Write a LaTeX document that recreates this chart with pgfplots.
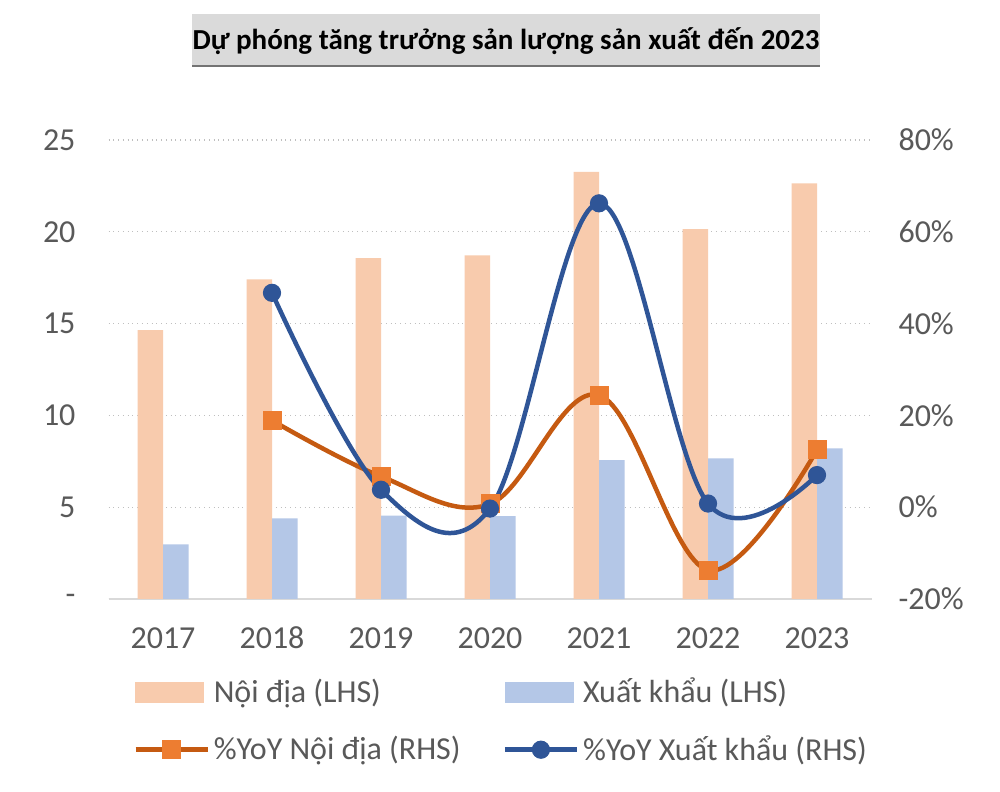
\documentclass[border=0pt]{standalone}
\usepackage{fontspec}
\setmainfont{Carlito}
\usepackage{pgfplots}
\pgfplotsset{compat=1.18}
\definecolor{peach}{HTML}{F8CBAD}
\definecolor{lblue}{HTML}{B4C7E7}
\definecolor{oline}{HTML}{C55A11}
\definecolor{omark}{HTML}{ED7D31}
\definecolor{bline}{HTML}{2F5597}
\definecolor{tickc}{HTML}{595959}
\definecolor{gridc}{HTML}{BFBFBF}
\definecolor{axisc}{HTML}{D9D9D9}
\definecolor{titlebg}{HTML}{DADADA}
\begin{document}
\begin{tikzpicture}
\useasboundingbox (0,0) rectangle (500bp,396bp);
\fill[white] (0,0) rectangle (500bp,396bp);
\fill[titlebg] (96bp,363bp) rectangle (410bp,389bp);
\draw[black!55, line width=1.2bp] (96bp,363bp) -- (410bp,363bp);
\node[font=\fontsize{14.5bp}{17bp}\selectfont\bfseries, text=black] at (253bp,375.5bp) {Dự phóng tăng trưởng sản lượng sản xuất đến 2023};
\begin{axis}[
  at={(54.25bp,96.5bp)}, anchor=south west,
  scale only axis, width=381.5bp, height=229.5bp,
  xmin=-0.5, xmax=6.5, ymin=0, ymax=25,
  xtick={0,...,6}, xticklabels={2017,2018,2019,2020,2021,2022,2023},
  ytick={0,5,...,25}, yticklabels={-,5,10,15,20,25},
  axis x line*=bottom, axis y line*=left,
  axis line style={-},
  x axis line style={draw=axisc, line width=1bp},
  y axis line style={draw=none},
  major tick length=0pt,
  ymajorgrids, grid style={gridc, dotted, line width=0.6bp},
  tick label style={font=\fontsize{16bp}{19bp}\selectfont, text=tickc},
  yticklabel style={xshift=-13bp},
  xticklabel style={anchor=north, text height=11bp, text depth=0pt, yshift=-10bp},
  ybar, bar width=12.75bp,
  clip=false,
]
\addplot[fill=peach, draw=none, bar shift=-6.375bp] coordinates {(0,14.65) (1,17.41) (2,18.57) (3,18.72) (4,23.27) (5,20.14) (6,22.64)};
\addplot[fill=lblue, draw=none, bar shift=6.375bp] coordinates {(0,2.98) (1,4.39) (2,4.54) (3,4.52) (4,7.57) (5,7.66) (6,8.21)};
\end{axis}
\begin{axis}[
  at={(54.25bp,96.5bp)}, anchor=south west,
  scale only axis, width=381.5bp, height=229.5bp,
  xmin=-0.5, xmax=6.5, ymin=-20, ymax=80,
  hide x axis,
  axis y line*=right, axis line style={-}, y axis line style={draw=none},
  ytick={-20,0,...,80}, yticklabels={-20\%,0\%,20\%,40\%,60\%,80\%},
  major tick length=0pt,
  tick label style={font=\fontsize{16bp}{19bp}\selectfont, text=tickc},
  yticklabel style={xshift=10bp},
  clip=false,
  legend columns=2,
  legend cell align=left,
  legend image code/.code={\draw[mark repeat=2,mark phase=2,#1] plot coordinates {(0bp,0bp) (18bp,0bp) (36bp,0bp)};},
  legend style={at={(0.032,-0.167)}, anchor=north west, draw=none, fill=none, inner sep=0pt,
    font=\fontsize{16bp}{19bp}\selectfont, text=tickc, row sep=13bp,
    nodes={inner xsep=2bp, inner ysep=1bp},
    /tikz/every even column/.append style={column sep=19bp}},
]
\addlegendimage{legend image code/.code={\fill[peach] (0bp,-5bp) rectangle (34bp,5bp);}}
\addlegendentry{Nội địa (LHS)}
\addlegendimage{legend image code/.code={\fill[lblue] (0bp,-5bp) rectangle (34bp,5bp);}}
\addlegendentry{Xuất khẩu (LHS)}
\addplot[oline, line width=2.25bp, smooth, tension=0.6, mark=square*, mark size=4.5bp, mark options={fill=omark, draw=omark, line width=0.5bp}] coordinates {(1,18.9) (2,6.7) (3,0.7) (4,24.4) (5,-13.7) (6,12.5)};
\addlegendentry{\%YoY Nội địa (RHS)}
\addplot[bline, line width=2.25bp, smooth, tension=0.6, mark=*, mark size=4.3bp, mark options={fill=bline, draw=bline, line width=0.5bp}] coordinates {(1,46.7) (2,3.8) (3,-0.3) (4,66.2) (5,0.8) (6,7.0)};
\addlegendentry{\%YoY Xuất khẩu (RHS)}
\end{axis}
\end{tikzpicture}
\end{document}
